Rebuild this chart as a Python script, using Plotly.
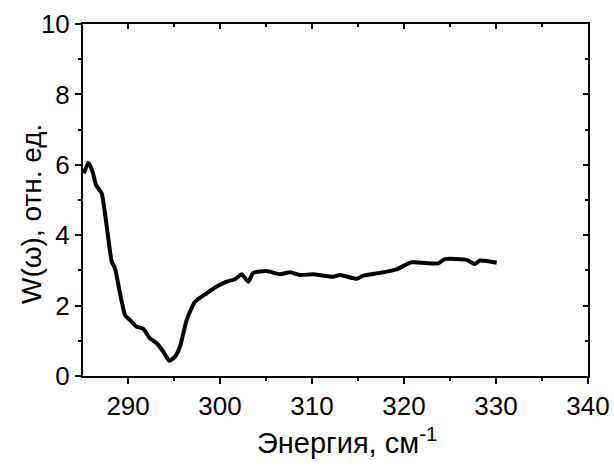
import plotly.graph_objects as go

energy = [285.21, 285.68, 286.15, 286.51, 287.13, 287.49, 287.85, 288.22, 288.58, 289.12,
          289.67, 290.21, 290.94, 291.65, 292.38, 293.11, 293.83, 294.48, 295.10, 295.64,
          296.37, 297.27, 298.55, 299.63, 300.72, 301.62, 302.35, 303.07, 303.61, 305.07,
          306.51, 307.60, 308.69, 310.13, 312.31, 313.03, 314.85, 315.57, 317.38, 319.20,
          320.83, 322.82, 323.72, 324.45, 326.81, 327.71, 328.25, 330.07]
w_values = [5.76, 6.06, 5.80, 5.43, 5.19, 4.62, 3.91, 3.25, 3.06, 2.35,
            1.73, 1.59, 1.40, 1.34, 1.07, 0.93, 0.69, 0.43, 0.55, 0.83,
            1.59, 2.11, 2.35, 2.54, 2.68, 2.75, 2.89, 2.68, 2.93, 2.98,
            2.89, 2.95, 2.87, 2.89, 2.82, 2.87, 2.76, 2.85, 2.93, 3.03,
            3.23, 3.20, 3.20, 3.32, 3.30, 3.18, 3.28, 3.22]

x_range = [285.1, 340]
y_range = [0, 10]
x_ticks = [290, 300, 310, 320, 330, 340]
y_ticks = [0, 2, 4, 6, 8, 10]

FONT = "Liberation Sans, Arial, sans-serif"
FS = 26      # tick labels
FTX = 29     # x axis title
FTY = 28     # y axis title

W, H = 614, 466
ML, MT = 83, 24
PW, PH = 505, 352
MR, MB = W - ML - PW, H - MT - PH

fig = go.Figure()
fig.add_trace(go.Scatter(x=energy, y=w_values, mode="lines",
                         line=dict(color="black", width=4, shape="spline", smoothing=0.5),
                         showlegend=False, hoverinfo="skip"))
fig.add_trace(go.Scatter(x=[], y=[], xaxis="x2", yaxis="y2", showlegend=False))

common = dict(showline=True, linecolor="black", linewidth=2, showgrid=False, zeroline=False,
              tickwidth=2, tickcolor="black",
              tickfont=dict(family=FONT, size=FS, color="black"))

fig.update_layout(
    width=W, height=H,
    margin=dict(l=ML, r=MR, t=MT, b=MB, autoexpand=False),
    paper_bgcolor="white", plot_bgcolor="white",
    xaxis=dict(range=x_range, tickvals=x_ticks, ticks="outside", ticklen=6,
               minor=dict(dtick=5, ticks="outside", ticklen=3, tickwidth=2, tickcolor="black"),
               **common),
    yaxis=dict(range=y_range, tickvals=y_ticks, ticks="outside", ticklen=6,
               minor=dict(dtick=1, ticks="outside", ticklen=3, tickwidth=2, tickcolor="black"),
               **common),
    xaxis2=dict(range=x_range, tickvals=x_ticks, ticks="inside", overlaying="x", side="top",
                anchor="y", showticklabels=False, ticklen=5,
                minor=dict(dtick=5, ticks="inside", ticklen=3, tickwidth=2, tickcolor="black"),
                **common),
    yaxis2=dict(range=y_range, tickvals=y_ticks, ticks="inside", overlaying="y", side="right",
                anchor="x", showticklabels=False, ticklen=5,
                minor=dict(dtick=1, ticks="inside", ticklen=3, tickwidth=2, tickcolor="black"),
                **common),
    annotations=[
        dict(text="Энергия, см<sup>-1</sup>", xref="paper", yref="paper",
             x=(347 - ML) / PW, y=-(441 - 376) / PH, xanchor="center", yanchor="middle",
             showarrow=False, font=dict(family=FONT, size=FTX, color="black")),
        dict(text="W(ω), отн. ед.", xref="paper", yref="paper",
             x=-(ML - 31) / PW, y=(376 - 214) / PH, textangle=-90,
             xanchor="center", yanchor="middle",
             showarrow=False, font=dict(family=FONT, size=FTY, color="black")),
    ],
)
fig.write_html("out.html", config={"displayModeBar": False, "staticPlot": True},
               post_script="document.body.style.margin='0';document.body.style.overflow='hidden';")
